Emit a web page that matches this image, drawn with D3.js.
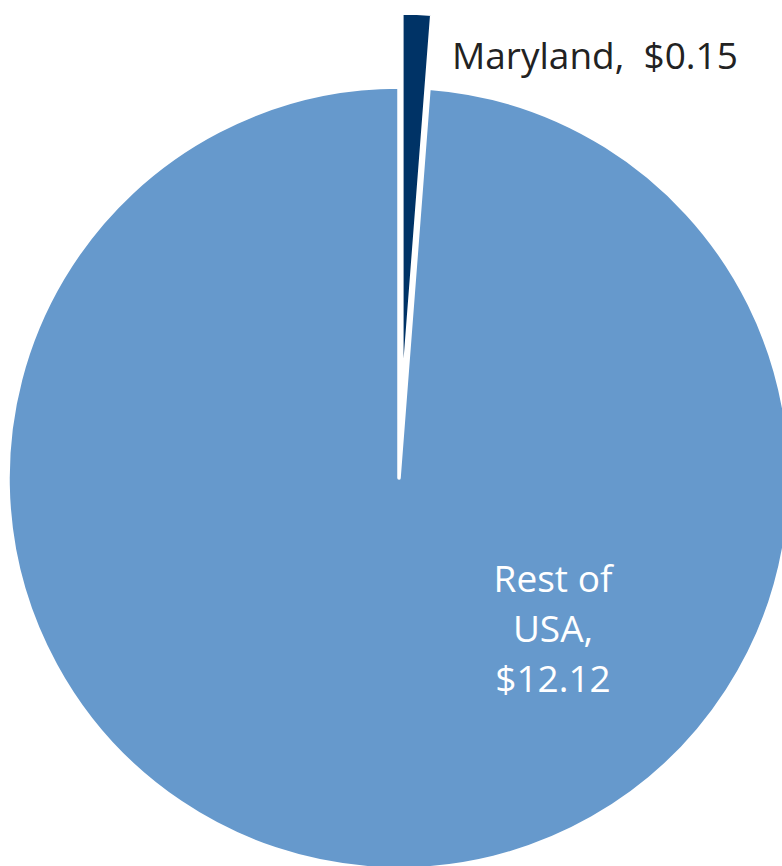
<!DOCTYPE html>
<html lang="en">
<head>
<meta charset="UTF-8">
<title>Maryland share of USA</title>
<style>
  body { margin: 0; background: #fff; }
  svg { display: block; }
</style>
</head>
<body>
<svg width="782" height="866"></svg>
<script src="https://cdn.jsdelivr.net/npm/d3@7"></script>
<script>
var names = ["Maryland", "Rest of USA"];
var values = [0.15, 12.12];
var labels = [["Maryland,  $0.15"], ["Rest of", "USA,", "$12.12"]];
var colors = ["#003366", "#6699cc"];

var svg = d3.select("svg");
var cx = 399, cy = 478, radius = 391;
var explode = 74;

var pie = d3.pie().sort(null).value(function (d) { return d; });
var arcs = pie(values);
var arc = d3.arc().innerRadius(0).outerRadius(radius);

var g = svg.append("g").attr("transform", "translate(" + cx + "," + cy + ")");

g.selectAll("path")
    .data(arcs)
    .enter()
    .append("path")
    .attr("d", arc)
    .attr("fill", function (d, i) { return colors[i]; })
    .attr("stroke", "#fff")
    .attr("stroke-width", 3.5)
    .attr("stroke-linejoin", "round")
    .attr("transform", function (d, i) {
        if (i !== 0) return null;
        var a = (d.startAngle + d.endAngle) / 2;
        return "translate(" + (Math.sin(a) * explode) + "," + (-Math.cos(a) * explode) + ")";
    });

// Maryland label, outside on the right
g.append("text")
    .attr("x", 452 - cx)
    .attr("y", 69 - cy)
    .attr("font-family", "Open Sans, sans-serif")
    .attr("font-size", 37)
    .attr("fill", "#222")
    .attr("xml:space", "preserve")
    .text(labels[0][0]);

// Rest of USA label, inside
var lab = g.append("text")
    .attr("text-anchor", "middle")
    .attr("font-family", "Open Sans, sans-serif")
    .attr("font-size", 37)
    .attr("fill", "#fff");
labels[1].forEach(function (t, j) {
    lab.append("tspan")
        .attr("x", 553 - cx)
        .attr("y", 592 - cy + j * 50)
        .text(t);
});
</script>
</body>
</html>
